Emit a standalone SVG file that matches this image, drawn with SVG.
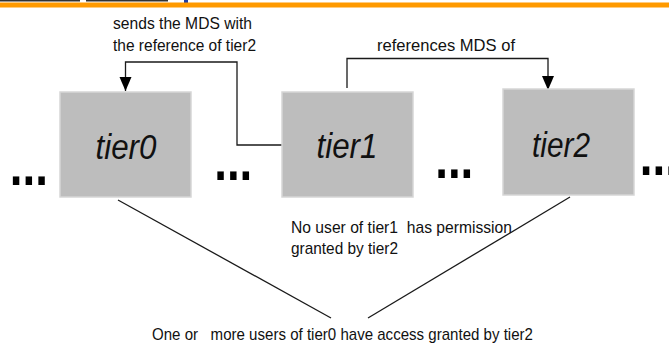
<svg xmlns="http://www.w3.org/2000/svg" width="669" height="345" viewBox="0 0 669 345">
<defs>
<style>
.box{fill:#bdbdbd;stroke:#d6d6d6;stroke-width:1.5}
.tier{font-family:"Liberation Sans",Arial,sans-serif;font-style:italic;font-size:35px;fill:#111;text-anchor:middle}
.lbl{font-family:"Liberation Sans",Arial,sans-serif;font-size:17px;fill:#111;white-space:pre}
.dots{font-family:"Liberation Sans",Arial,sans-serif;font-weight:bold;font-size:45.7px;fill:#000}
.conn{fill:none;stroke:#1a1a1a;stroke-width:1.3}
</style>
<marker id="arr" markerUnits="userSpaceOnUse" markerWidth="14" markerHeight="14" viewBox="0 0 14 12" refX="14" refY="6" orient="auto">
<path d="M0,0 L14,6 L0,12 z" fill="#000"/>
</marker>
</defs>
<rect x="0" y="0" width="669" height="345" fill="#fff"/>
<g id="header">
<rect x="0" y="0" width="80" height="1.5" fill="#333"/>
<rect x="86" y="0" width="82" height="1.5" fill="#333"/>
<rect x="184" y="0" width="4" height="3" fill="#1f3fa8"/>
<rect x="0" y="2.5" width="669" height="5" fill="#ff9a00"/>
</g>
<g id="connectors">
<polyline class="conn" points="282,145 237,145 237,62 125.5,62 125.5,91" marker-end="url(#arr)"/>
<polyline class="conn" points="347,88 347,58.5 548,58.5 548,90" marker-end="url(#arr)"/>
<line class="conn" x1="118" y1="200" x2="331" y2="318"/>
<line class="conn" x1="570" y1="197" x2="368" y2="318"/>
</g>
<g id="tier0">
<rect class="box" x="60" y="92" width="131" height="105"/>
<text class="tier" x="126" y="159" textLength="61" lengthAdjust="spacingAndGlyphs">tier0</text>
</g>
<g id="tier1">
<rect class="box" x="282" y="92" width="131" height="105"/>
<text class="tier" x="347" y="158" textLength="61" lengthAdjust="spacingAndGlyphs">tier1</text>
</g>
<g id="tier2">
<rect class="box" x="503" y="89" width="131" height="106"/>
<text class="tier" x="561" y="157" textLength="58" lengthAdjust="spacingAndGlyphs">tier2</text>
</g>
<g id="ellipses">
<text class="dots" transform="translate(9.8,185) scale(1,1.25)">...</text>
<text class="dots" transform="translate(214.2,180) scale(1,1.25)">...</text>
<text class="dots" transform="translate(435.2,178) scale(1,1.25)">...</text>
<text class="dots" transform="translate(639.8,175) scale(1,1.25)">...</text>
</g>
<g id="labels">
<text class="lbl" x="113" y="29" textLength="139" lengthAdjust="spacingAndGlyphs">sends the MDS with</text>
<text class="lbl" x="113" y="51" textLength="143" lengthAdjust="spacingAndGlyphs">the reference of tier2</text>
<text class="lbl" x="377" y="51" textLength="138" lengthAdjust="spacingAndGlyphs">references MDS of</text>
<text class="lbl" x="291" y="233" textLength="221" lengthAdjust="spacingAndGlyphs">No user of tier1  has permission</text>
<text class="lbl" x="291" y="254" textLength="107" lengthAdjust="spacingAndGlyphs">granted by tier2</text>
<text class="lbl" x="152" y="340" textLength="381" lengthAdjust="spacingAndGlyphs">One or   more users of tier0 have access granted by tier2</text>
</g>
</svg>
